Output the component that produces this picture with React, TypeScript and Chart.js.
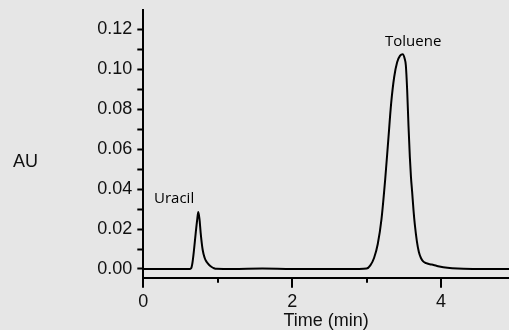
import React, { useEffect, useRef } from "react";
import { Chart, registerables } from "chart.js";

Chart.register(...registerables);

// Chromatogram trace: time (min) and absorbance (AU)
const timeMin = [
  0, 0.5, 0.62, 0.641, 0.66, 0.681, 0.704, 0.725, 0.739, 0.755, 0.771, 0.798,
  0.825, 0.852, 0.885, 0.919, 0.95, 0.986, 1.2, 1.6, 2.0, 2.5, 2.9, 3.0, 3.05,
  3.1, 3.15, 3.2, 3.25, 3.29, 3.33, 3.37, 3.41, 3.45, 3.485, 3.51, 3.527,
  3.545, 3.563, 3.581, 3.596, 3.612, 3.63, 3.648, 3.675, 3.702, 3.73, 3.76,
  3.8, 3.85, 3.9, 3.96, 4.03, 4.15, 4.3, 4.6, 4.913,
];
const absorbance = [
  0, 0, 0, 0.0003, 0.003, 0.0095, 0.018, 0.025, 0.0285, 0.025, 0.018, 0.0095,
  0.0055, 0.0035, 0.002, 0.001, 0.0004, 0.0001, 0, 0.0002, 0, 0, 0, 0.0002,
  0.0018, 0.0055, 0.0125, 0.025, 0.045, 0.064, 0.083, 0.096, 0.1035, 0.1068,
  0.1075, 0.1055, 0.102, 0.0895, 0.0715, 0.056, 0.046, 0.0385, 0.0295, 0.0222,
  0.014, 0.0085, 0.0055, 0.0038, 0.0029, 0.0024, 0.002, 0.0014, 0.0009,
  0.0004, 0.0001, 0, 0,
];

const yTickValues = [0, 0.01, 0.02, 0.03, 0.04, 0.05, 0.06, 0.07, 0.08, 0.09, 0.1, 0.11, 0.12];
const yTickLabels = ["0.00", "", "0.02", "", "0.04", "", "0.06", "", "0.08", "", "0.10", "", "0.12"];
const xTickValues = [0, 1, 2, 3, 4];
const xTickLabels = ["0", "", "2", "", "4"];

const peakNames = ["Uracil", "Toluene"];
const peakLabelX = [0.144, 3.247];
const peakLabelY = [0.0332, 0.1116];

const yAxisTitle = "AU";
const xAxisTitle = "Time (min)";

const TEXT = "#111111";
const AXIS_FONT = "'Liberation Sans', Arial, sans-serif";

const extrasPlugin = {
  id: "extras",
  afterDraw(chart: any) {
    const ctx = chart.ctx;
    const xs = chart.scales.x;
    const ys = chart.scales.y;
    const bottom = chart.chartArea.bottom;
    ctx.save();
    // x tick marks (major longer than minor)
    ctx.strokeStyle = "#000";
    ctx.lineWidth = 2;
    xTickValues.forEach((v, i) => {
      const px = Math.round(xs.getPixelForValue(v));
      const len = xTickLabels[i] ? 10 : 5;
      ctx.beginPath();
      ctx.moveTo(px, bottom);
      ctx.lineTo(px, bottom + len);
      ctx.stroke();
    });
    // peak labels
    ctx.fillStyle = "#000";
    ctx.font = "15px 'Open Sans', sans-serif";
    ctx.textAlign = "left";
    ctx.textBaseline = "alphabetic";
    peakNames.forEach((name, i) => {
      ctx.fillText(name, xs.getPixelForValue(peakLabelX[i]), ys.getPixelForValue(peakLabelY[i]));
    });
    // horizontal y-axis title
    ctx.fillStyle = TEXT;
    ctx.font = "18px " + AXIS_FONT;
    ctx.textBaseline = "middle";
    ctx.fillText(yAxisTitle, 13, ys.getPixelForValue(0.0537));
    ctx.restore();
  },
};

export default function App() {
  const ref = useRef<HTMLCanvasElement | null>(null);
  useEffect(() => {
    document.body.style.margin = "0";
    const canvas = ref.current!;
    const chart = new Chart(canvas, {
      type: "line",
      data: {
        datasets: [
          {
            data: timeMin.map((t, i) => ({ x: t, y: absorbance[i] })),
            borderColor: "#000",
            borderWidth: 2,
            pointRadius: 0,
            cubicInterpolationMode: "monotone",
            fill: false,
          },
        ],
      },
      options: {
        animation: false,
        responsive: false,
        devicePixelRatio: 1,
        layout: { padding: { top: 10, right: 0, left: 0, bottom: 0 } },
        plugins: { legend: { display: false }, tooltip: { enabled: false } },
        scales: {
          x: {
            type: "linear",
            min: 0,
            max: 4.913,
            border: { color: "#000", width: 2 },
            grid: { drawOnChartArea: false, drawTicks: false },
            afterBuildTicks: (s: any) => {
              s.ticks = xTickValues.map((v) => ({ value: v }));
            },
            afterFit: (s: any) => {
              s.height = 52.3;
              s.paddingLeft = 0;
              s.paddingRight = 0;
            },
            ticks: {
              autoSkip: false,
              maxRotation: 0,
              padding: 14,
              color: TEXT,
              font: { family: AXIS_FONT, size: 18 },
              callback: (_v: any, i: number) => xTickLabels[i],
            },
            title: {
              display: true,
              text: xAxisTitle,
              color: TEXT,
              font: { family: AXIS_FONT, size: 18 },
              padding: { top: 0, bottom: -2 },
            },
          },
          y: {
            type: "linear",
            min: -0.00436,
            max: 0.12966,
            border: { color: "#000", width: 2 },
            grid: {
              drawOnChartArea: false,
              drawTicks: true,
              tickLength: 6,
              tickColor: "#000",
              tickWidth: 2,
            },
            afterBuildTicks: (s: any) => {
              s.ticks = yTickValues.map((v) => ({ value: v }));
            },
            afterFit: (s: any) => {
              s.width = 143.3;
              s.paddingTop = 0;
              s.paddingBottom = 0;
            },
            ticks: {
              autoSkip: false,
              padding: 5,
              color: TEXT,
              font: { family: AXIS_FONT, size: 18 },
              callback: (_v: any, i: number) => yTickLabels[i],
            },
          },
        },
      },
      plugins: [extrasPlugin],
    });
    return () => chart.destroy();
  }, []);
  return (
    <div
      style={{
        position: "absolute",
        left: 0,
        top: 0,
        width: 509,
        height: 330,
        background: "#e6e6e6",
        overflow: "hidden",
      }}
    >
      <canvas ref={ref} width={509} height={330} style={{ display: "block" }} />
    </div>
  );
}
